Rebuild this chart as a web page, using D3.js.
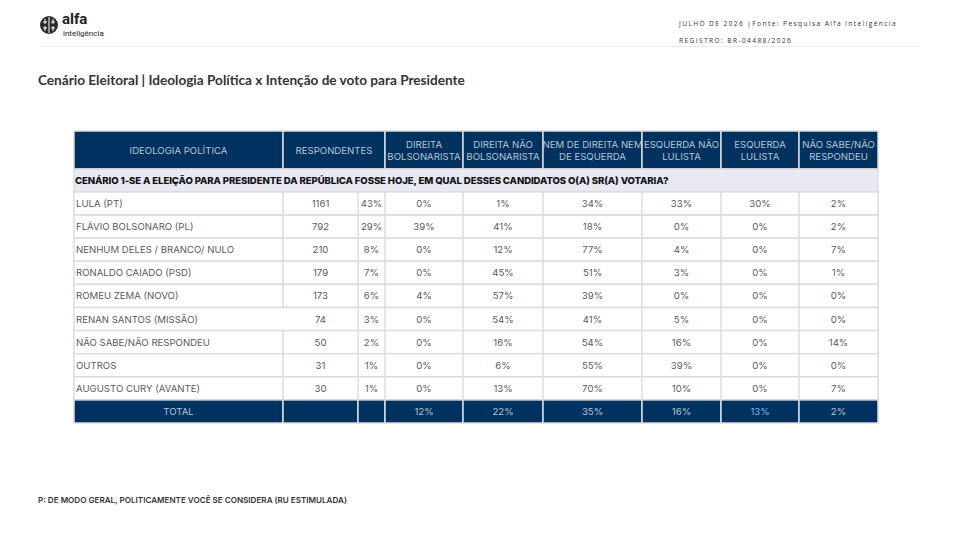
<!DOCTYPE html>
<meta charset="utf-8">
<style>
body { margin: 0; background: #fff; }
svg { font-family: Inter, Roboto, sans-serif; }
</style>
<body>
<script src="https://d3js.org/d3.v7.min.js"></script>
<script>

const candidates = ["LULA (PT)", "FLÁVIO BOLSONARO (PL)", "NENHUM DELES / BRANCO/ NULO", "RONALDO CAIADO (PSD)",
  "ROMEU ZEMA (NOVO)", "RENAN SANTOS (MISSÃO)", "NÃO SABE/NÃO RESPONDEU", "OUTROS", "AUGUSTO CURY (AVANTE)"];
const respondents = [1161, 792, 210, 179, 173, 74, 50, 31, 30];
const respondentsPct = [43, 29, 8, 7, 6, 3, 2, 1, 1];
const ideologies = ["DIREITA\nBOLSONARISTA", "DIREITA NÃO\nBOLSONARISTA", "NEM DE DIREITA NEM\nDE ESQUERDA",
  "ESQUERDA NÃO\nLULISTA", "ESQUERDA\nLULISTA", "NÃO SABE/NÃO\nRESPONDEU"];
const direitaBolsonarista = [0, 39, 0, 0, 4, 0, 0, 0, 0];
const direitaNaoBolsonarista = [1, 41, 12, 45, 57, 54, 16, 6, 13];
const nemDireitaNemEsquerda = [34, 18, 77, 51, 39, 41, 54, 55, 70];
const esquerdaNaoLulista = [33, 0, 4, 3, 0, 5, 16, 39, 10];
const esquerdaLulista = [30, 0, 0, 0, 0, 0, 0, 0, 0];
const naoSabe = [2, 2, 7, 1, 0, 0, 14, 0, 7];
const totals = [12, 22, 35, 16, 13, 2];

const series = [direitaBolsonarista, direitaNaoBolsonarista, nemDireitaNemEsquerda, esquerdaNaoLulista, esquerdaLulista, naoSabe];

const width = 953, height = 533;
const navy = "#00315f", grid = "#dcdcdc", headText = "#b9c5d8", cellText = "#5a5a5a";

const svg = d3.select("body").append("svg")
    .attr("width", width)
    .attr("height", height);

// --- page header ---
const logo = svg.append("g").attr("transform", "translate(49,25)");
logo.append("circle").attr("r", 9).attr("fill", "#2b2b2b");
logo.append("path").attr("d", "M0,-8V8M-6,-3H-2M2,-3H6M-6,3H-2M2,3H6M-4,-6V-1M4,-6V-1M-4,1V6M4,1V6")
    .attr("stroke", "#fff").attr("stroke-width", 1).attr("fill", "none");
svg.append("text").attr("x", 62).attr("y", 24).text("alfa")
    .attr("font-size", 15).attr("font-weight", 700).attr("fill", "#222").style("font-family", "Roboto, sans-serif");
svg.append("text").attr("x", 63).attr("y", 36).text("inteligência")
    .attr("font-size", 8).attr("fill", "#222").style("font-family", "Roboto, sans-serif");

svg.append("text").attr("x", 679).attr("y", 26).text("JULHO DE 2026 |Fonte: Pesquisa Alfa Inteligência")
    .attr("font-size", 6.6).attr("letter-spacing", 1.4).attr("fill", "#333").style("font-family", "'Open Sans', sans-serif");
svg.append("text").attr("x", 679).attr("y", 43).text("REGISTRO: BR-04488/2026")
    .attr("font-size", 6.6).attr("letter-spacing", 1.4).attr("fill", "#333").style("font-family", "'Open Sans', sans-serif");
svg.append("line").attr("x1", 40).attr("x2", 920).attr("y1", 46.5).attr("y2", 46.5)
    .attr("stroke", "#ececec").attr("stroke-width", 1);

svg.append("text").attr("x", 38).attr("y", 85)
    .text("Cenário Eleitoral | Ideologia Política x Intenção de voto para Presidente")
    .attr("font-size", 13.6).attr("font-weight", 700).attr("fill", "#333").style("font-family", "Lato, sans-serif");

svg.append("text").attr("x", 38).attr("y", 503)
    .text("P: DE MODO GERAL, POLITICAMENTE VOCÊ SE CONSIDERA (RU ESTIMULADA)")
    .attr("font-size", 8.1).attr("font-weight", 600).attr("fill", "#333");

// --- table ---
const colEdges = [74, 283, 358, 385, 463, 543, 642, 721, 799, 878];
const rows = candidates.concat(["TOTAL"]);
const y = d3.scaleBand().domain(rows).range([192, 423]);
const headTop = 131, headBottom = 169;

const table = svg.append("g");

// header
const headCells = [{x0: colEdges[0], x1: colEdges[1], label: "IDEOLOGIA POLÍTICA"},
  {x0: colEdges[1], x1: colEdges[3], label: "RESPONDENTES"}]
  .concat(ideologies.map((d, i) => ({x0: colEdges[i + 3], x1: colEdges[i + 4], label: d})));

const hg = table.selectAll(".head").data(headCells).enter().append("g").attr("class", "head");
hg.append("rect")
    .attr("x", d => d.x0).attr("y", headTop)
    .attr("width", d => d.x1 - d.x0).attr("height", headBottom - headTop)
    .attr("fill", navy).attr("stroke", grid).attr("stroke-width", 1.5);
hg.append("text")
    .attr("x", d => (d.x0 + d.x1) / 2)
    .attr("text-anchor", "middle").attr("font-size", 9.6).attr("fill", headText)
    .each(function(d) {
      const lines = d.label.split("\n");
      const mid = (headTop + headBottom) / 2;
      d3.select(this).selectAll("tspan").data(lines).enter().append("tspan")
          .attr("x", (d.x0 + d.x1) / 2)
          .attr("y", (l, i) => mid + 3.5 + (i - (lines.length - 1) / 2) * 12)
          .text(l => l);
    });

// section row
table.append("rect").attr("x", colEdges[0]).attr("y", headBottom)
    .attr("width", colEdges[9] - colEdges[0]).attr("height", 192 - headBottom)
    .attr("fill", "#e8e9f3").attr("stroke", grid).attr("stroke-width", 1.5);
table.append("text").attr("x", 75).attr("y", 184)
    .text("CENÁRIO 1-SE A ELEIÇÃO PARA PRESIDENTE DA REPÚBLICA FOSSE HOJE, EM QUAL DESSES CANDIDATOS O(A) SR(A) VOTARIA?")
    .attr("font-size", 9.6).attr("font-weight", 800).attr("fill", "#111").attr("letter-spacing", -0.1);

// data rows
const rowData = candidates.map((c, i) => ({
  name: c,
  cells: [respondents[i], respondentsPct[i] + "%"].concat(series.map(s => s[i] + "%"))
}));

const rg = table.selectAll(".row").data(rowData).enter().append("g").attr("class", "row")
    .attr("transform", d => `translate(0,${y(d.name)})`);

rg.each(function(d) {
  const g = d3.select(this);
  const noFirstBorder = d.name === "RENAN SANTOS (MISSÃO)";
  g.append("rect").attr("x", colEdges[0]).attr("width", colEdges[9] - colEdges[0])
      .attr("height", y.bandwidth()).attr("fill", "#fff").attr("stroke", grid).attr("stroke-width", 1.5);
  colEdges.slice(1, 9).forEach((x, k) => {
    if (noFirstBorder && k === 0) return;
    g.append("line").attr("x1", x).attr("x2", x).attr("y1", 0).attr("y2", y.bandwidth())
        .attr("stroke", grid).attr("stroke-width", 1.5);
  });
  g.append("text").attr("x", 76).attr("y", y.bandwidth() / 2 + 3.5).text(d.name)
      .attr("font-size", 9.6).attr("fill", cellText);
  d.cells.forEach((v, k) => {
    g.append("text").attr("x", (colEdges[k + 1] + colEdges[k + 2]) / 2)
        .attr("y", y.bandwidth() / 2 + 3.5).attr("text-anchor", "middle")
        .text(v).attr("font-size", 9.6).attr("fill", cellText);
  });
});

// total row
const tg = table.append("g").attr("transform", `translate(0,${y("TOTAL")})`);
colEdges.slice(0, 9).forEach((x, k) => {
  tg.append("rect").attr("x", x).attr("width", colEdges[k + 1] - x).attr("height", y.bandwidth())
      .attr("fill", navy).attr("stroke", grid).attr("stroke-width", 1.5);
});
tg.append("text").attr("x", (colEdges[0] + colEdges[1]) / 2).attr("y", y.bandwidth() / 2 + 3.5)
    .attr("text-anchor", "middle").text("TOTAL").attr("font-size", 9.6).attr("fill", headText);
totals.forEach((v, k) => {
  tg.append("text").attr("x", (colEdges[k + 3] + colEdges[k + 4]) / 2).attr("y", y.bandwidth() / 2 + 3.5)
      .attr("text-anchor", "middle").text(v + "%").attr("font-size", 9.6)
      .attr("fill", k === 4 ? "#8fb4e6" : headText);
});

</script>
